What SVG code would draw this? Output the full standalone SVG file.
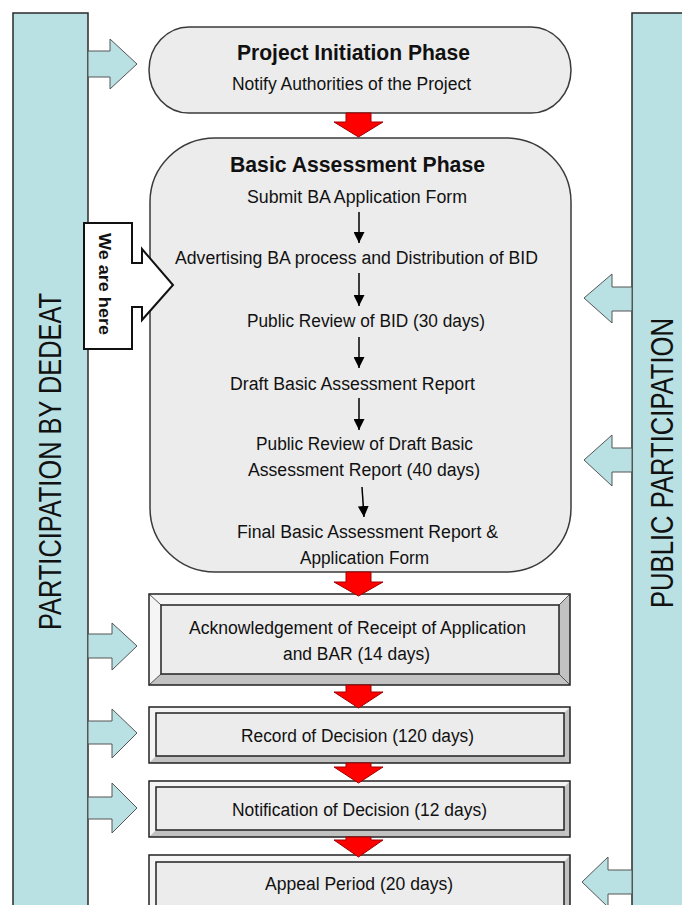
<svg xmlns="http://www.w3.org/2000/svg" width="682" height="905" viewBox="0 0 682 905">
<defs>
<marker id="ah" markerWidth="12" markerHeight="11" refX="11" refY="5.5" orient="auto" markerUnits="userSpaceOnUse">
<path d="M0,0 L11,5.5 L0,11 Z" fill="#000"/>
</marker>
</defs>
<style>
.bar{fill:#b9e0e3;stroke:#2a2a2a;stroke-width:1.5}
.barr{fill:#b9e0e3;stroke:#555;stroke-width:1}
.phase{fill:#ececec;stroke:#3a3a3a;stroke-width:1.5}
.t{font-family:"Liberation Sans",Arial,sans-serif;font-size:18px;fill:#111;text-anchor:middle}
.h{font-family:"Liberation Sans",Arial,sans-serif;font-size:22px;font-weight:bold;fill:#111;text-anchor:middle}
.v{font-family:"Liberation Sans",Arial,sans-serif;font-size:32px;fill:#111;text-anchor:middle}
.red{fill:#ff0000;stroke:#a00000;stroke-width:1}
.blk{stroke:#000;stroke-width:1.5;fill:none}
.lt{fill:#f5f5f5;stroke:none}
.dk{fill:#c2c2c2;stroke:none}
.ob{fill:none;stroke:#222;stroke-width:1.5}
.ib{fill:#ececec;stroke:#222;stroke-width:1.5}
.bv{stroke:#555;stroke-width:1}
</style>

<g id="participation-dedeat">
<rect class="bar" x="13" y="13" width="75" height="900"/>
<text class="v" transform="translate(49,461.5) rotate(-90)" x="0" y="11.5" textLength="337" lengthAdjust="spacingAndGlyphs">PARTICIPATION BY DEDEAT</text>
</g>
<g id="public-participation">
<rect class="bar" x="632" y="13" width="60" height="900"/>
<text class="v" transform="translate(661.5,463) rotate(-90)" x="0" y="11.5" textLength="290" lengthAdjust="spacingAndGlyphs">PUBLIC PARTICIPATION</text>
</g>

<g id="project-initiation">
<rect class="phase" x="149" y="27" width="422" height="86" rx="40" ry="43"/>
<text class="h" x="353.5" y="60" textLength="233" lengthAdjust="spacingAndGlyphs">Project Initiation Phase</text>
<text class="t" x="351.5" y="90" textLength="239" lengthAdjust="spacingAndGlyphs">Notify Authorities of the Project</text>
</g>

<g id="basic-assessment">
<rect class="phase" x="150" y="138" width="421" height="434" rx="65" ry="64"/>
<text class="h" x="357.5" y="172" textLength="255" lengthAdjust="spacingAndGlyphs">Basic Assessment Phase</text>
<text class="t" x="357" y="203" textLength="220" lengthAdjust="spacingAndGlyphs">Submit BA Application Form</text>
<text class="t" x="356.5" y="264" textLength="363" lengthAdjust="spacingAndGlyphs">Advertising BA process and Distribution of BID</text>
<text class="t" x="366" y="327" textLength="238" lengthAdjust="spacingAndGlyphs">Public Review of BID (30 days)</text>
<text class="t" x="352.5" y="390" textLength="245" lengthAdjust="spacingAndGlyphs">Draft Basic Assessment Report</text>
<text class="t" x="364.5" y="450" textLength="217" lengthAdjust="spacingAndGlyphs">Public Review of Draft Basic</text>
<text class="t" x="364" y="476" textLength="232" lengthAdjust="spacingAndGlyphs">Assessment Report (40 days)</text>
<text class="t" x="367.5" y="538" textLength="261" lengthAdjust="spacingAndGlyphs">Final Basic Assessment Report &amp;</text>
<text class="t" x="364.5" y="564" textLength="129" lengthAdjust="spacingAndGlyphs">Application Form</text>
</g>

<g id="acknowledgement">
<polygon class="lt" points="149,594 570,594 559,605 161,605"/>
<polygon class="lt" points="149,594 161,605 161,674 149,685"/>
<polygon class="dk" points="570,594 570,685 559,674 559,605"/>
<polygon class="dk" points="149,685 161,674 559,674 570,685"/>
<line class="bv" x1="149" y1="594" x2="161" y2="605"/>
<line class="bv" x1="570" y1="594" x2="559" y2="605"/>
<line class="bv" x1="149" y1="685" x2="161" y2="674"/>
<line class="bv" x1="570" y1="685" x2="559" y2="674"/>
<rect class="ib" x="161" y="605" width="398" height="69"/>
<rect class="ob" x="149" y="594" width="421" height="91"/>
<text class="t" x="357.5" y="634" textLength="337" lengthAdjust="spacingAndGlyphs">Acknowledgement of Receipt of Application</text>
<text class="t" x="356.5" y="660" textLength="147" lengthAdjust="spacingAndGlyphs">and BAR (14 days)</text>
</g>

<g id="record-of-decision">
<polygon class="lt" points="149,707 570,707 564,713 156,713"/>
<polygon class="lt" points="149,707 156,713 156,756 149,763"/>
<polygon class="dk" points="570,707 570,763 564,756 564,713"/>
<polygon class="dk" points="149,763 156,756 564,756 570,763"/>
<rect class="ib" x="156" y="713" width="408" height="43"/>
<rect class="ob" x="149" y="707" width="421" height="56"/>
<text class="t" x="357.5" y="742" textLength="233" lengthAdjust="spacingAndGlyphs">Record of Decision (120 days)</text>
</g>

<g id="notification-of-decision">
<polygon class="lt" points="149,781 570,781 564,787 156,787"/>
<polygon class="lt" points="149,781 156,787 156,830 149,837"/>
<polygon class="dk" points="570,781 570,837 564,830 564,787"/>
<polygon class="dk" points="149,837 156,830 564,830 570,837"/>
<rect class="ib" x="156" y="787" width="408" height="43"/>
<rect class="ob" x="149" y="781" width="421" height="56"/>
<text class="t" x="359.5" y="816" textLength="255" lengthAdjust="spacingAndGlyphs">Notification of Decision (12 days)</text>
</g>

<g id="appeal-period">
<polygon class="lt" points="149,855 570,855 564,862 156,862"/>
<polygon class="lt" points="149,855 156,862 156,920 149,920"/>
<polygon class="dk" points="570,855 570,920 564,920 564,862"/>
<rect class="ib" x="156" y="862" width="408" height="60"/>
<rect class="ob" x="149" y="855" width="421" height="65"/>
<text class="t" x="359" y="890" textLength="188" lengthAdjust="spacingAndGlyphs">Appeal Period (20 days)</text>
</g>

<g id="we-are-here">
<polygon points="84,223 132,223 132,263 142,263 142,249 173,285 142,320 142,307 132,307 132,349 84,349" fill="#fff" stroke="#111" stroke-width="2"/>
<text transform="translate(105,284) rotate(90)" x="0" y="6" font-family="Liberation Sans, Arial, sans-serif" font-size="17" font-weight="bold" fill="#111" text-anchor="middle" textLength="102" lengthAdjust="spacingAndGlyphs">We are here</text>
</g>

<g id="connectors">
<polygon class="barr" points="88,51 110,51 110,39 137,64 110,89 110,77 88,77"/>
<polygon class="barr" points="88,634 112,634 112,623 137,646 112,670 112,658 88,658"/>
<polygon class="barr" points="88,721 112,721 112,709 137,733 112,758 112,744 88,744"/>
<polygon class="barr" points="88,797 112,797 112,783 137,808 112,833 112,819 88,819"/>
<polygon class="barr" points="632,287 612,287 612,274 584,298 612,323 612,311 632,311"/>
<polygon class="barr" points="632,448 612,448 612,435 584,460 612,486 612,472 632,472"/>
<polygon class="barr" points="632,870 608,870 608,857 582,882 608,907 608,894 632,894"/>

<polygon class="red" points="346,113 371,113 371,122 383,122 358.5,137 334,122 346,122"/>
<polygon class="red" points="346,572 371,572 371,582 383,582 358.5,596 334,582 346,582"/>
<polygon class="red" points="346,685 371,685 371,692 383,692 358.5,708 334,692 346,692"/>
<polygon class="red" points="346,763 371,763 371,767 383,767 358.5,783 334,767 346,767"/>
<polygon class="red" points="346,837 371,837 371,840 383,840 358.5,857 334,840 346,840"/>

<line class="blk" x1="359" y1="212" x2="359" y2="243" marker-end="url(#ah)"/>
<line class="blk" x1="359" y1="273" x2="359" y2="306" marker-end="url(#ah)"/>
<line class="blk" x1="359" y1="337" x2="359" y2="368" marker-end="url(#ah)"/>
<line class="blk" x1="359" y1="398" x2="359" y2="430" marker-end="url(#ah)"/>
<line class="blk" x1="362" y1="487" x2="364" y2="517" marker-end="url(#ah)"/>
</g>
</svg>
